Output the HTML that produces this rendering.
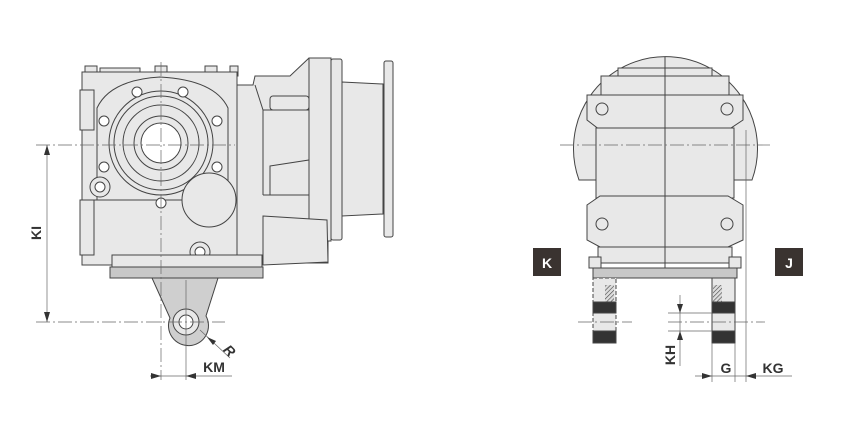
<!DOCTYPE html>
<html><head><style>
html,body{margin:0;padding:0;background:#fff;}
svg{display:block;}
text{font-family:"Liberation Sans",sans-serif;font-weight:bold;}
</style></head><body>
<svg width="849" height="425" viewBox="0 0 849 425" xmlns="http://www.w3.org/2000/svg">
<defs>
<pattern id="hatch" width="3" height="3" patternUnits="userSpaceOnUse" patternTransform="rotate(45)">
<rect width="3" height="3" fill="#ddd"/><line x1="0" y1="0" x2="0" y2="3" stroke="#444" stroke-width="1.2"/></pattern>
</defs>
<g stroke="#444" stroke-width="1" fill="#e8e8e8">
<!-- LEFT: right-side housing -->
<polygon points="237,85 253,85 255,76 290,76 309,58 331,58 331,241 328,241 328,263 237,263"/>
<line x1="263" y1="110" x2="263" y2="195"/>
<line x1="255" y1="85" x2="263" y2="110"/>
<line x1="263" y1="110" x2="309" y2="110"/>
<rect x="309" y="58" width="22" height="183"/>
<rect x="331" y="59" width="11" height="181" rx="2"/>
<path d="M342,82 L383,84 L383,214 L342,216 Z"/>
<rect x="384" y="61" width="9" height="176" rx="2"/>
<polygon points="270,166 309,160 309,195 270,195"/>
<line x1="263" y1="195" x2="309" y2="195"/>
<polygon points="263,216 327,220 328,262 263,265"/>
<rect x="270" y="96" width="39" height="14" rx="3"/>
<!-- main gear body -->
<rect x="85" y="66" width="12" height="10"/><rect x="100" y="68" width="40" height="8"/><rect x="155" y="66" width="12" height="10"/><rect x="205" y="66" width="12" height="10"/><rect x="230" y="66" width="8" height="10"/>
<rect x="82" y="72" width="155" height="193"/>
<rect x="80" y="90" width="14" height="40"/>
<rect x="80" y="200" width="14" height="55"/>
<path d="M97,108 Q110,80 160,77 Q215,80 228,108 L228,200 L97,200 Z" fill="#e8e8e8"/>
<circle cx="161" cy="143" r="52"/>
<circle cx="161" cy="143" r="47"/>
<circle cx="161" cy="143" r="38"/>
<circle cx="161" cy="143" r="27"/>
<circle cx="161" cy="143" r="20" fill="#fff"/>
<circle cx="104" cy="121" r="5" fill="#fff"/><circle cx="217" cy="121" r="5" fill="#fff"/>
<circle cx="137" cy="92" r="5" fill="#fff"/><circle cx="183" cy="92" r="5" fill="#fff"/>
<circle cx="104" cy="167" r="5" fill="#fff"/><circle cx="217" cy="167" r="5" fill="#fff"/>
<circle cx="161" cy="203" r="5" fill="#fff"/>
<circle cx="100" cy="187" r="10"/><circle cx="100" cy="187" r="5" fill="#fff"/>
<circle cx="200" cy="252" r="10"/><circle cx="200" cy="252" r="5" fill="#fff"/>
<circle cx="209" cy="200" r="27"/>
<line x1="82" y1="200" x2="120" y2="200" fill="none"/>
<rect x="112" y="255" width="150" height="12"/>
<rect x="110" y="267" width="153" height="11" fill="#c8c8c8"/>
<path d="M152,278 L218,278 L206,316 A20,20 0 1 1 170,318 Z" fill="#cfcfcf"/>
<circle cx="186" cy="322" r="13"/>
<circle cx="186" cy="322" r="7" fill="#fff"/>
<!-- RIGHT view -->
<path d="M579,180 A92,92 0 1 1 752,180 Z"/>
<rect x="618" y="68" width="94" height="10"/>
<rect x="601" y="76" width="128" height="20"/>
<polygon points="587,95 743,95 743,120 728,130 600,130 587,120"/>
<rect x="596" y="128" width="138" height="70"/>
<polygon points="587,205 600,196 728,196 743,205 743,240 728,247 600,247 587,240"/>
<rect x="598" y="247" width="134" height="16"/>
<rect x="589" y="257" width="12" height="11"/><rect x="729" y="257" width="12" height="11"/>
<rect x="593" y="268" width="144" height="10" fill="#c8c8c8"/>
<line x1="665" y1="57" x2="665" y2="268" fill="none"/>
<circle cx="602" cy="109" r="6"/><circle cx="727" cy="109" r="6"/>
<circle cx="602" cy="224" r="6"/><circle cx="727" cy="224" r="6"/>
<!-- feet -->
<rect x="593" y="278" width="23" height="65" stroke-dasharray="4,2"/>
<rect x="605" y="285" width="9" height="17" fill="url(#hatch)" stroke="none"/>
<rect x="593" y="302" width="23" height="11" fill="#333"/>
<rect x="593" y="331" width="23" height="12" fill="#333"/>
<rect x="712" y="278" width="23" height="65"/>
<rect x="713" y="285" width="9" height="17" fill="url(#hatch)" stroke="none"/>
<rect x="712" y="302" width="23" height="11" fill="#333"/>
<rect x="712" y="331" width="23" height="12" fill="#333"/>
</g>
<!-- center/dimension lines -->
<g stroke="#666" stroke-width="0.7" fill="none">
<line x1="36" y1="145" x2="235" y2="145" stroke-dasharray="14,3,2,3"/>
<line x1="161" y1="62" x2="161" y2="380" stroke-dasharray="14,3,2,3"/>
<line x1="36" y1="322" x2="225" y2="322" stroke-dasharray="14,3,2,3"/>
<line x1="186" y1="280" x2="186" y2="380"/>
<line x1="47" y1="145" x2="47" y2="322"/>
<line x1="150" y1="376" x2="232" y2="376"/>
<line x1="200" y1="330" x2="230" y2="358"/>
<line x1="560" y1="145" x2="770" y2="145" stroke-dasharray="14,3,2,3"/>
<line x1="578" y1="322" x2="632" y2="322" stroke-dasharray="14,3,2,3"/>
<line x1="668" y1="322" x2="765" y2="322" stroke-dasharray="14,3,2,3"/>
<line x1="668" y1="313" x2="712" y2="313"/><line x1="668" y1="331" x2="712" y2="331"/>
<line x1="680" y1="295" x2="680" y2="366"/>
<line x1="712" y1="343" x2="712" y2="382"/><line x1="735" y1="343" x2="735" y2="382"/>
<line x1="746" y1="130" x2="746" y2="382"/>
<line x1="695" y1="376" x2="792" y2="376"/>
</g>
<g fill="#333">
<polygon points="47,145 44,155 50,155"/><polygon points="47,322 44,312 50,312"/>
<polygon points="161,376 151,373 151,379"/><polygon points="186,376 196,373 196,379"/>
<polygon points="207,337 213,345 216,341"/>
<polygon points="680,313 677,304 683,304"/><polygon points="680,331 677,340 683,340"/>
<polygon points="712,376 702,373 702,379"/><polygon points="746,376 756,373 756,379"/>
</g>
<rect x="533" y="248" width="28" height="28" fill="#3a3330"/>
<rect x="775" y="248" width="28" height="28" fill="#3a3330"/>
<text x="547" y="268" fill="#fff" font-size="14" text-anchor="middle">K</text>
<text x="789" y="268" fill="#fff" font-size="14" text-anchor="middle">J</text>
<text x="41" y="233" font-size="14" fill="#333" text-anchor="middle" transform="rotate(-90 41 233)">KI</text>
<text x="214" y="372" font-size="14" fill="#333" text-anchor="middle">KM</text>
<text x="226" y="352" font-size="14" fill="#333" font-style="italic" transform="rotate(45 226 347)">R</text>
<text x="675" y="355" font-size="14" fill="#333" text-anchor="middle" transform="rotate(-90 675 355)">KH</text>
<text x="726" y="373" font-size="14" fill="#333" text-anchor="middle">G</text>
<text x="773" y="373" font-size="14" fill="#333" text-anchor="middle">KG</text>
</svg>
</body></html>
